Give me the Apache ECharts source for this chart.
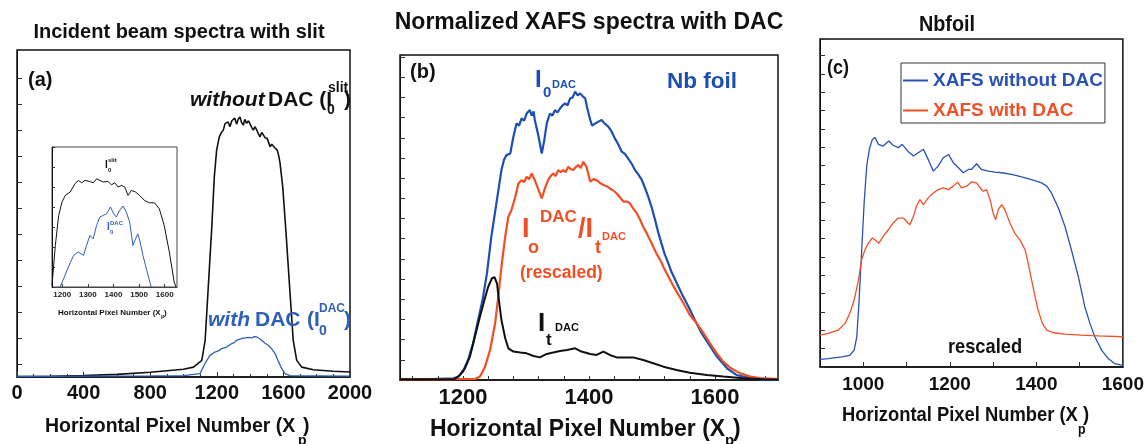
<!DOCTYPE html>
<html>
<head>
<meta charset="utf-8">
<script src="https://cdn.jsdelivr.net/npm/echarts@6/dist/echarts.min.js"></script>
<style>
  html, body { margin: 0; padding: 0; background: #fff; }
  #chart { width: 1147px; height: 444px; }
</style>
</head>
<body>
<div id="chart"></div>
<script>
// ---------- data: [pixel number, intensity] ----------
// (a) incident beam through the slit, with and without the DAC
const beamNoDac = [[0,0.02],[200,0.03],[400,0.06],[600,0.1],[800,0.18],[1000,0.3],[1060,0.38],[1110,0.64],[1130,1.41],[1150,3.59],[1170,5.77],[1185,7.69],[1199,8.72],[1215,9.23],[1228,9.4],[1239,9.49],[1250,9.75],[1259,9.68],[1268,9.8],[1279,9.62],[1290,9.85],[1299,9.81],[1308,9.95],[1319,9.72],[1328,9.9],[1339,10.0],[1348,9.8],[1359,9.68],[1368,9.9],[1379,9.75],[1390,9.85],[1399,9.81],[1410,9.6],[1419,9.49],[1430,9.62],[1440,9.55],[1450,9.35],[1459,9.23],[1470,9.4],[1479,9.36],[1490,9.2],[1503,9.17],[1512,9.0],[1520,8.85],[1530,8.95],[1539,8.91],[1550,8.8],[1563,8.72],[1572,8.5],[1580,8.21],[1596,7.31],[1616,5.52],[1640,3.21],[1659,1.41],[1680,0.64],[1710,0.38],[1780,0.28],[1900,0.22],[2000,0.19]];
const beamDac = [[0,0.02],[400,0.03],[800,0.04],[1000,0.05],[1099,0.13],[1129,0.52],[1159,0.83],[1189,0.96],[1210,1.0],[1229,1.09],[1259,1.15],[1275,1.22],[1289,1.28],[1305,1.32],[1319,1.41],[1335,1.45],[1350,1.48],[1370,1.5],[1389,1.52],[1410,1.5],[1425,1.55],[1440,1.54],[1455,1.48],[1470,1.41],[1480,1.38],[1490,1.3],[1509,1.22],[1530,1.08],[1550,0.9],[1570,0.6],[1590,0.32],[1610,0.13],[1640,0.05],[2000,0.03]];
// (a) inset: close-up of the two beam profiles
const insetNoDac = [[1160,0.08],[1173,2.08],[1186,3.58],[1199,4.25],[1212,4.58],[1231,4.75],[1250,5.17],[1263,5.33],[1276,5.21],[1289,5.33],[1306,5.28],[1321,5.21],[1334,5.41],[1347,5.33],[1360,5.25],[1379,5.28],[1392,5.11],[1405,5.21],[1418,5.0],[1431,5.08],[1444,5.0],[1457,4.58],[1470,4.83],[1486,4.75],[1502,4.58],[1521,4.33],[1540,4.21],[1560,4.21],[1579,3.91],[1598,3.08],[1618,1.75],[1637,0.25],[1644,0]];
const insetDac = [[1192,0],[1205,0.41],[1224,1.0],[1244,1.58],[1263,1.75],[1283,1.58],[1295,2.08],[1308,2.58],[1321,2.41],[1334,3.08],[1347,3.5],[1360,3.58],[1373,3.66],[1388,4.0],[1401,3.66],[1411,3.5],[1424,3.83],[1437,4.05],[1450,3.75],[1463,3.25],[1476,2.08],[1486,2.41],[1495,2.66],[1504,2.25],[1515,1.58],[1530,0.83],[1547,0]];
// (b) normalized spectra through the DAC
const i0Dac = [[1100,0.05],[1150,0.05],[1185,0.08],[1193,0.17],[1200,0.42],[1208,0.99],[1216,1.82],[1224,2.97],[1231,3.96],[1238,5.28],[1245,7.1],[1253,8.75],[1261,10.4],[1265,10.9],[1269,11.14],[1275,11.22],[1280,12.05],[1285,12.71],[1289,12.6],[1293,12.96],[1297,12.85],[1301,13.2],[1306,13.37],[1309,13.1],[1312,13.3],[1314,12.88],[1320,12.05],[1325,11.22],[1329,11.88],[1333,12.71],[1338,13.2],[1342,13.1],[1346,13.37],[1350,13.25],[1354,13.45],[1358,13.6],[1362,13.7],[1366,13.6],[1370,13.95],[1374,14.0],[1378,14.28],[1382,14.1],[1386,14.2],[1390,14.05],[1394,13.95],[1397,13.5],[1402,12.88],[1405,12.6],[1410,12.71],[1415,12.8],[1420,12.88],[1425,12.7],[1431,12.54],[1436,12.3],[1441,11.97],[1446,11.7],[1452,11.31],[1457,11.2],[1462,10.98],[1468,10.7],[1473,10.4],[1478,10.2],[1484,9.9],[1489,9.5],[1494,9.08],[1500,8.5],[1505,7.92],[1510,7.3],[1515,6.77],[1520,6.25],[1526,5.78],[1531,5.35],[1537,4.95],[1547,4.29],[1558,3.63],[1568,2.97],[1579,2.31],[1589,1.82],[1603,1.16],[1619,0.58],[1634,0.25],[1656,0.09],[1677,0.02],[1700,0.0]];
const ratioDac = [[1100,0.04],[1180,0.04],[1220,0.06],[1227,0.17],[1235,0.66],[1243,1.49],[1251,2.81],[1256,4.13],[1261,5.61],[1267,7.1],[1272,8.09],[1277,8.42],[1283,9.08],[1288,9.74],[1293,9.9],[1297,9.8],[1301,10.07],[1305,9.95],[1309,10.23],[1314,9.9],[1320,9.41],[1325,9.0],[1330,9.49],[1335,9.9],[1339,10.1],[1343,10.23],[1347,10.1],[1351,10.4],[1355,10.3],[1359,10.4],[1363,10.3],[1367,10.56],[1371,10.45],[1375,10.4],[1379,10.55],[1383,10.65],[1387,10.5],[1391,10.81],[1396,10.56],[1402,9.82],[1407,9.95],[1412,9.9],[1418,9.75],[1423,9.66],[1428,9.6],[1433,9.49],[1438,9.4],[1444,9.24],[1449,9.05],[1455,8.83],[1460,8.85],[1465,8.75],[1470,8.5],[1476,8.25],[1481,7.95],[1486,7.59],[1492,7.25],[1497,6.93],[1502,6.6],[1507,6.27],[1513,5.95],[1518,5.61],[1523,5.3],[1529,4.95],[1534,4.65],[1539,4.38],[1550,3.8],[1560,3.22],[1571,2.81],[1582,2.31],[1592,1.82],[1603,1.32],[1613,0.91],[1624,0.61],[1640,0.33],[1656,0.17],[1671,0.09],[1700,0.04]];
const itDac = [[1100,0.04],[1187,0.05],[1195,0.25],[1203,0.58],[1211,1.16],[1219,2.15],[1227,3.14],[1234,3.96],[1240,4.62],[1246,5.04],[1250,5.09],[1254,4.79],[1257,3.96],[1261,2.97],[1267,2.07],[1272,1.57],[1280,1.41],[1291,1.36],[1301,1.32],[1312,1.19],[1322,1.12],[1333,1.29],[1343,1.36],[1354,1.44],[1365,1.49],[1378,1.57],[1388,1.41],[1402,1.29],[1412,1.24],[1423,1.41],[1433,1.24],[1444,1.12],[1455,1.12],[1470,1.12],[1486,0.99],[1502,0.83],[1518,0.66],[1539,0.5],[1560,0.36],[1587,0.25],[1613,0.17],[1645,0.09],[1677,0.04],[1700,0.03]];
// (c) Nb foil XAFS, rescaled
const xafsNoDac = [[900,0.42],[919,0.46],[950,0.55],[969,0.64],[979,0.92],[985,1.65],[990,3.47],[996,6.21],[1002,8.95],[1008,10.96],[1014,11.88],[1021,12.42],[1027,12.52],[1035,12.15],[1046,12.06],[1059,12.33],[1069,12.1],[1081,11.97],[1090,12.15],[1103,11.78],[1116,11.51],[1127,11.69],[1139,11.88],[1150,11.33],[1162,10.69],[1173,10.96],[1185,11.42],[1197,11.6],[1208,11.15],[1220,10.87],[1231,10.6],[1243,10.78],[1250,10.78],[1262,11.09],[1273,10.78],[1289,10.69],[1304,10.63],[1320,10.6],[1343,10.51],[1366,10.38],[1389,10.23],[1412,10.05],[1424,9.87],[1435,9.5],[1451,8.68],[1466,7.68],[1481,6.4],[1497,4.94],[1512,3.29],[1524,2.38],[1535,1.65],[1551,0.92],[1566,0.46],[1581,0.19],[1597,0.1],[1600,0.09]];
const xafsDac = [[900,1.74],[919,1.83],[942,2.01],[958,2.38],[969,2.93],[979,3.66],[989,4.75],[996,5.85],[1004,6.4],[1012,6.76],[1021,7.04],[1027,6.94],[1036,6.76],[1046,7.13],[1058,7.49],[1069,7.86],[1081,8.13],[1093,8.13],[1103,7.86],[1108,7.77],[1116,8.22],[1123,8.77],[1131,9.14],[1139,8.86],[1150,9.23],[1162,9.5],[1173,9.68],[1185,9.78],[1197,9.68],[1208,9.87],[1218,10.09],[1227,9.78],[1239,9.87],[1250,10.1],[1262,10.05],[1270,9.78],[1277,9.59],[1285,9.68],[1293,9.14],[1300,8.41],[1306,8.04],[1312,8.59],[1320,8.86],[1327,8.59],[1339,7.86],[1350,7.31],[1362,6.94],[1374,6.4],[1381,5.67],[1389,4.75],[1397,3.84],[1404,3.11],[1414,2.38],[1424,2.01],[1439,1.87],[1466,1.79],[1504,1.74],[1543,1.7],[1600,1.65]];

// ---------- tick positions and labels ----------
const ticksA = [0.5,1.5,2.5,3.5,4.5,5.5,6.5,7.5,8.5,9.5,10.5,11.5];
const labelsB = [1200,1400,1600];
const ticksB = [1120,1160,1200,1240,1280,1320,1360,1400,1440,1480,1520,1560,1600,1640,1680];
const labelsC = [1000,1200,1400,1600];
const ticksC = [1000,1100,1200,1300,1400,1500];
const labelsInset = [1200,1300,1400,1500,1600];

// ---------- styling ----------
const FONT = '"Liberation Sans", Arial, sans-serif';
const BLACK = '#111111';
const BLUE_A = '#2f5fb8';
const BLUE_B = '#1d4fb0';
const RED_B = '#f24e24';
const BLUE_C = '#2a52b3';
const RED_C = '#ef5128';
const plain = v => String(v);

function gridBox(left, top, width, height, bw, bc) {
  return { left, top, width, height, show: true, borderColor: bc || '#111', borderWidth: bw,
           backgroundColor: '#fff', containLabel: false };
}
function yAxisOf(gridIndex, max, tickOpts) {
  return {
    type: 'value', gridIndex, min: 0, max, interval: 1,
    axisLine: { show: true, lineStyle: { color: '#111', width: 1 } },
    axisTick: Object.assign({ show: true, inside: true, length: 5, lineStyle: { color: '#333' } }, tickOpts || {}),
    axisLabel: { show: false }, splitLine: { show: false }
  };
}
function textEl(text, x, y, size, fill, opts) {
  opts = opts || {};
  return {
    type: 'text', x, y, z: 100, scaleX: opts.sx || 1,
    style: {
      text, fill,
      font: (opts.italic ? 'italic ' : '') + 'bold ' + size + 'px ' + FONT,
      align: opts.align || 'left', verticalAlign: 'middle'
    }
  };
}
function line(name, data, xi, color, width) {
  return {
    name, type: 'line', data, xAxisIndex: xi, yAxisIndex: xi,
    showSymbol: false, symbol: 'none', smooth: false, silent: true,
    lineStyle: { color, width }, itemStyle: { color }, animation: false
  };
}

const chart = echarts.init(document.getElementById('chart'), null, { renderer: 'canvas' });

const option = {
  animation: false,
  backgroundColor: '#ffffff',
  grid: [
    gridBox(17, 50, 333, 327, 1.5),        // (a)
    gridBox(52, 147, 125, 140, 1, '#444'), // inset of (a)
    gridBox(400, 55, 378, 325, 1.5),       // (b)
    gridBox(820, 39, 303, 328, 1.5)        // (c)
  ],
  xAxis: [
    {
      type: 'value', gridIndex: 0, min: 0, max: 2000, interval: 400,
      axisLine: { lineStyle: { color: '#111', width: 1.5 } },
      axisTick: { inside: true, length: 5, lineStyle: { color: '#333' } },
      minorTick: { show: true, splitNumber: 4, length: 3, lineStyle: { color: '#333' } },
      axisLabel: { formatter: plain, color: '#111', fontSize: 20, fontWeight: 'bold', fontFamily: FONT, margin: 6 },
      splitLine: { show: false }, minorSplitLine: { show: false }
    },
    {
      type: 'value', gridIndex: 1, min: 1160, max: 1648,
      axisLine: { lineStyle: { color: '#444', width: 1 } },
      axisTick: { inside: true, length: 3, customValues: labelsInset, lineStyle: { color: '#444' } },
      axisLabel: { customValues: labelsInset, formatter: plain, color: '#222', fontSize: 8, fontWeight: 'bold', fontFamily: FONT, margin: 4 },
      splitLine: { show: false }
    },
    {
      type: 'value', gridIndex: 2, min: 1100, max: 1700,
      axisLine: { lineStyle: { color: '#111', width: 1.5 } },
      axisTick: { inside: true, length: 4, customValues: ticksB, lineStyle: { color: '#333' } },
      axisLabel: { customValues: labelsB, formatter: plain, color: '#111', fontSize: 22, fontWeight: 'bold', fontFamily: FONT, margin: 7 },
      splitLine: { show: false }
    },
    {
      type: 'value', gridIndex: 3, min: 900, max: 1600,
      axisLine: { lineStyle: { color: '#111', width: 1.5 } },
      axisTick: { inside: true, length: 5, customValues: ticksC, lineStyle: { color: '#333' } },
      axisLabel: { customValues: labelsC, formatter: plain, color: '#111', fontSize: 19, fontWeight: 'bold', fontFamily: FONT, margin: 8 },
      splitLine: { show: false }
    }
  ],
  yAxis: [
    yAxisOf(0, 12.57, { customValues: ticksA }),
    yAxisOf(1, 7, { length: 3 }),
    yAxisOf(2, 16.1, { length: 5 }),
    yAxisOf(3, 17.9, { length: 5 })
  ],
  legend: {
    show: true, orient: 'vertical', left: 901, top: 63,
    padding: [8, 2, 3, 2], itemGap: 11, itemWidth: 25, itemHeight: 2, icon: 'rect',
    borderColor: '#333', borderWidth: 1, backgroundColor: '#fff',
    textStyle: { fontSize: 19, fontWeight: 'bold', fontFamily: FONT },
    data: [
      { name: 'XAFS without DAC', textStyle: { color: BLUE_C } },
      { name: 'XAFS with DAC', textStyle: { color: RED_C } }
    ]
  },
  series: [
    line('I0 slit', beamNoDac, 0, BLACK, 1.6),
    line('I0 DAC', beamDac, 0, BLUE_A, 1.3),
    line('inset I0 slit', insetNoDac, 1, BLACK, 1),
    line('inset I0 DAC', insetDac, 1, BLUE_A, 1),
    line('I0 DAC (b)', i0Dac, 2, BLUE_B, 2.2),
    line('Io/It rescaled', ratioDac, 2, RED_B, 2.2),
    line('It DAC', itDac, 2, BLACK, 2.0),
    line('XAFS without DAC', xafsNoDac, 3, BLUE_C, 1.3),
    line('XAFS with DAC', xafsDac, 3, RED_C, 1.3)
  ],
  graphic: [
    // ----- (a) -----
    textEl('Incident beam spectra with slit', 179, 32, 20, BLACK, { align: 'center' }),
    textEl('(a)', 28, 80, 20, BLACK),
    textEl('without', 190, 100, 21, BLACK, { italic: true }),
    textEl('DAC (I', 268, 100, 21, BLACK),
    textEl('0', 327, 110, 14, BLACK),
    textEl('slit', 328, 88, 14, BLACK),
    textEl(')', 344, 100, 21, BLACK),
    textEl('with', 208, 320, 21, BLUE_A, { italic: true }),
    textEl('DAC', 255, 320, 21, BLUE_A),
    textEl('(I', 307, 320, 21, BLUE_A),
    textEl('0', 319, 331, 14, BLUE_A),
    textEl('DAC', 319, 309, 12, BLUE_A),
    textEl(')', 344, 320, 21, BLUE_A),
    textEl('Horizontal Pixel Number (X', 45, 427, 19.5, BLACK),
    textEl('p', 298, 441, 14, BLACK),
    textEl(')', 303, 427, 19.5, BLACK),
    // inset
    textEl('I', 105, 165, 10, BLACK),
    textEl('0', 108, 170, 6, BLACK),
    textEl('slit', 108, 160, 6, BLACK),
    textEl('I', 107, 227, 10, BLUE_A),
    textEl('0', 110, 232, 6, BLUE_A),
    textEl('DAC', 110, 223, 6, BLUE_A),
    textEl('Horizontal Pixel Number (X', 58, 313, 8, BLACK),
    textEl('p', 161, 316, 6, BLACK),
    textEl(')', 164, 313, 8, BLACK),
    // ----- (b) -----
    textEl('Normalized XAFS spectra with DAC', 589, 23, 23, BLACK, { align: 'center' }),
    textEl('(b)', 410, 72, 20, BLACK),
    textEl('I', 535, 80, 24, BLUE_B),
    textEl('0', 543, 93, 15, BLUE_B),
    textEl('DAC', 552, 85, 11, BLUE_B),
    textEl('Nb foil', 667, 82, 22.5, BLUE_B),
    textEl('I', 522, 230, 27, RED_B),
    textEl('DAC', 540, 217, 17, RED_B),
    textEl('o', 528, 248, 18, RED_B),
    textEl('/I', 578, 230, 27, RED_B),
    textEl('t', 595, 248, 18, RED_B),
    textEl('DAC', 602, 237, 11, RED_B),
    textEl('(rescaled)', 520, 273, 17.5, RED_B),
    textEl('I', 538, 324, 26, BLACK),
    textEl('t', 546, 340, 17, BLACK),
    textEl('DAC', 555, 328, 11, BLACK),
    textEl('Horizontal Pixel Number (X', 430, 430, 23, BLACK),
    textEl('p', 725, 441, 15, BLACK),
    textEl(')', 733, 430, 23, BLACK),
    // ----- (c) -----
    textEl('Nbfoil', 947, 25, 22, BLACK, { align: 'center', sx: 0.9 }),
    textEl('(c)', 827, 68, 20, BLACK, { sx: 0.9 }),
    textEl('rescaled', 985, 347, 21, BLACK, { align: 'center', sx: 0.87 }),
    textEl('Horizontal Pixel Number (X', 842, 415, 21, BLACK, { sx: 0.875 }),
    textEl('p', 1078, 430, 14, BLACK, { sx: 0.875 }),
    textEl(')', 1083, 415, 21, BLACK, { sx: 0.875 })
  ]
};

chart.setOption(option);
</script>
</body>
</html>
